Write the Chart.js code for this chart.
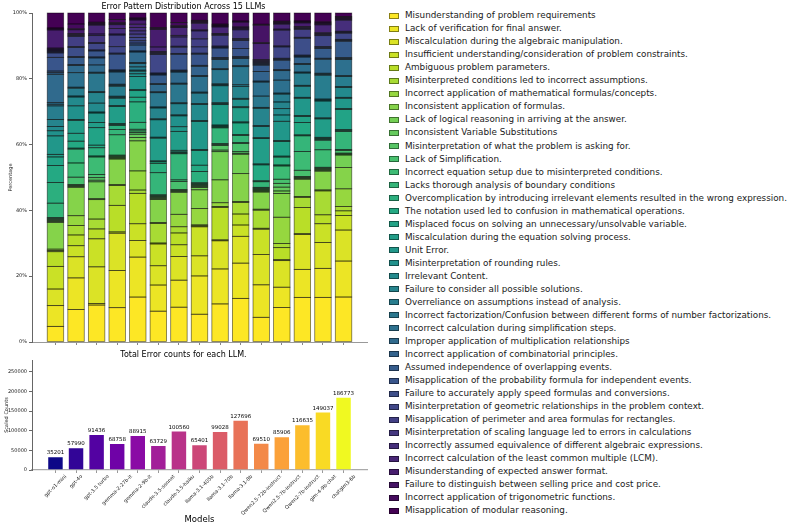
<!DOCTYPE html>
<html>
<head>
<meta charset="utf-8">
<script src="https://cdn.jsdelivr.net/npm/chart.js@4.4.1/dist/chart.umd.min.js"></script>
<style>
  body { margin: 0; background: #fff; font-family: "DejaVu Sans", sans-serif; }
  #topWrap { position: absolute; left: 0; top: 0; width: 380px; height: 350px; }
  #bottomWrap { position: absolute; left: 0; top: 350px; width: 380px; height: 179px; }
  #legend { position: absolute; left: 389px; top: 0; width: 408px; height: 529px; }
  .row { position: absolute; left: 0; height: 13px; line-height: 13px; white-space: nowrap; font-size: 8.8px; color: #1a1a1a; }
  .box { position: absolute; left: 0; top: 3.5px; width: 10px; height: 6px; box-sizing: border-box; border: 1px solid rgba(0,0,0,0.45); }
  .lbl { position: absolute; left: 16px; top: 0; }
</style>
</head>
<body>
<div id="topWrap"><canvas id="topChart"></canvas></div>
<div id="bottomWrap"><canvas id="bottomChart"></canvas></div>
<div id="legend"></div>
<script>
const models = ['gpt-o1-mini', 'gpt-4o', 'gpt-3.5 turbo', 'gemma-2-27b-it', 'gemma-2-9b-it',
  'claude-3.5-sonnet', 'claude-3.5-haiku', 'llama-3.1-405b', 'llama-3.1-70b', 'llama-3.1-8b',
  'Qwen2.5-72b-instruct', 'Qwen2.5-7b-instruct', 'Qwen2-7b-instruct', 'glm-4-9b-chat', 'chatglm3-6b'];

const totalErrors = [35201, 57990, 91436, 68758, 88915, 63729, 100560, 65401, 99028, 127696,
  69510, 85906, 116635, 149037, 186773];

const errorTypes = [
  'Misunderstanding of problem requirements',
  'Lack of verification for final answer.',
  'Miscalculation during the algebraic manipulation.',
  'Insufficient understanding/consideration of problem constraints.',
  'Ambiguous problem parameters.',
  'Misinterpreted conditions led to incorrect assumptions.',
  'Incorrect application of mathematical formulas/concepts.',
  'Inconsistent application of formulas.',
  'Lack of logical reasoning in arriving at the answer.',
  'Inconsistent Variable Substitutions',
  'Misinterpretation of what the problem is asking for.',
  'Lack of Simplification.',
  'Incorrect equation setup due to misinterpreted conditions.',
  'Lacks thorough analysis of boundary conditions',
  'Overcomplication by introducing irrelevant elements resulted in the wrong expression.',
  'The notation used led to confusion in mathematical operations.',
  'Misplaced focus on solving an unnecessary/unsolvable variable.',
  'Miscalculation during the equation solving process.',
  'Unit Error.',
  'Misinterpretation of rounding rules.',
  'Irrelevant Content.',
  'Failure to consider all possible solutions.',
  'Overreliance on assumptions instead of analysis.',
  'Incorrect factorization/Confusion between different forms of number factorizations.',
  'Incorrect calculation during simplification steps.',
  'Improper application of multiplication relationships',
  'Incorrect application of combinatorial principles.',
  'Assumed independence of overlapping events.',
  'Misapplication of the probability formula for independent events.',
  'Failure to accurately apply speed formulas and conversions.',
  'Misinterpretation of geometric relationships in the problem context.',
  'Misapplication of perimeter and area formulas for rectangles.',
  'Misinterpretation of scaling language led to errors in calculations',
  'Incorrectly assumed equivalence of different algebraic expressions.',
  'Incorrect calculation of the least common multiple (LCM).',
  'Misunderstanding of expected answer format.',
  'Failure to distinguish between selling price and cost price.',
  'Incorrect application of trigonometric functions.',
  'Misapplication of modular reasoning.'
];

// share (%) of each error type, one row per model, same order as errorTypes
const sharesByModel = [
  [4.9, 6.5, 5.2, 7.1, 4.6, 0.4, 0.4, 8.4, 0.3, 0.3, 0.3, 0.3, 0.3, 4.5, 6.5, 5.3, 2.7, 0.8, 5.8, 1.6, 1.3, 2.2, 4.3, 0.5, 0.5, 8.9, 0.5, 0.5, 4.3, 1.4, 0.3, 0.3, 0.3, 0.3, 0.3, 5.7, 0.3, 0.3, 4.7],
  [10.3, 10.0, 6.7, 3.5, 3.4, 3.0, 3.1, 9.0, 0.3, 0.3, 0.3, 2.3, 4.5, 4.4, 0.3, 2.2, 2.5, 4.1, 0.3, 4.3, 2.8, 0.3, 2.5, 0.3, 4.6, 2.3, 0.3, 2.2, 0.3, 2.9, 0.3, 3.2, 0.3, 0.3, 0.3, 1.2, 0.3, 1.5, 3.5],
  [11.6, 0.5, 11.5, 8.8, 3.1, 3.1, 6.1, 0.3, 5.3, 0.5, 0.8, 1.0, 5.5, 0.3, 2.6, 0.8, 5.5, 1.6, 3.0, 0.3, 2.8, 3.3, 0.3, 5.8, 0.3, 2.3, 2.2, 0.3, 1.9, 0.3, 2.0, 0.3, 2.2, 0.5, 2.8, 0.3, 0.3, 0.3, 2.9],
  [10.6, 11.5, 11.5, 0.4, 8.2, 6.1, 0.3, 7.9, 0.3, 0.3, 0.3, 0.3, 6.3, 1.6, 1.3, 0.3, 0.3, 5.2, 0.3, 2.3, 0.3, 0.3, 3.1, 0.3, 0.3, 3.8, 0.3, 0.3, 4.9, 0.3, 2.0, 3.6, 0.3, 1.7, 1.2, 0.3, 0.3, 1.0, 2.0],
  [13.6, 12.1, 5.0, 5.1, 9.2, 1.0, 5.8, 9.1, 1.0, 1.0, 0.5, 0.5, 0.5, 2.1, 6.2, 1.4, 2.0, 0.3, 4.0, 0.8, 0.8, 0.3, 1.0, 1.0, 0.3, 3.2, 0.3, 1.8, 0.6, 0.7, 1.0, 1.0, 1.0, 1.0, 1.0, 1.3, 0.3, 0.3, 1.5],
  [9.9, 8.4, 6.2, 7.0, 0.3, 6.3, 0.3, 7.4, 0.3, 0.3, 0.3, 0.3, 0.3, 7.1, 3.0, 0.5, 0.3, 7.3, 0.3, 5.6, 0.3, 3.5, 0.3, 4.6, 0.3, 2.3, 0.3, 2.8, 0.3, 0.3, 6.0, 0.3, 0.3, 0.3, 1.5, 5.6, 0.3, 0.3, 4.7],
  [11.2, 8.7, 7.6, 3.8, 3.8, 2.0, 4.0, 7.1, 0.3, 0.3, 0.3, 2.6, 0.5, 8.4, 0.3, 0.3, 0.5, 6.1, 1.5, 3.5, 0.3, 3.6, 0.3, 6.0, 0.3, 3.6, 0.3, 0.3, 5.1, 0.3, 2.0, 0.3, 3.0, 0.5, 2.5, 0.3, 0.3, 1.0, 3.1],
  [8.7, 12.0, 6.3, 9.1, 0.3, 0.3, 5.1, 5.9, 0.7, 0.3, 0.3, 0.3, 0.3, 0.3, 3.5, 2.0, 4.6, 0.3, 8.8, 0.3, 5.0, 0.3, 3.3, 0.3, 4.9, 0.3, 2.9, 0.3, 3.5, 0.3, 2.0, 2.5, 2.5, 0.3, 2.1, 0.3, 0.3, 0.3, 2.3],
  [12.3, 11.3, 9.1, 0.3, 10.5, 0.3, 1.2, 7.4, 9.1, 0.5, 1.5, 0.3, 0.3, 5.1, 0.3, 0.3, 0.3, 6.6, 0.3, 0.3, 5.5, 0.3, 0.3, 4.6, 0.3, 3.0, 0.3, 0.3, 3.1, 0.3, 0.3, 3.5, 0.3, 0.3, 2.1, 0.3, 0.3, 0.3, 3.6],
  [13.5, 10.9, 8.3, 3.5, 3.4, 3.6, 0.3, 8.6, 6.0, 0.3, 0.5, 2.5, 0.3, 2.2, 0.3, 3.6, 0.3, 4.4, 0.3, 2.3, 0.3, 3.7, 0.5, 5.6, 0.3, 2.2, 0.3, 0.3, 2.5, 2.5, 0.3, 0.3, 2.7, 0.3, 0.3, 0.3, 1.5, 0.3, 2.5],
  [7.9, 10.4, 9.7, 8.1, 0.3, 5.8, 0.3, 5.5, 0.3, 0.3, 0.3, 0.3, 0.3, 1.8, 0.3, 5.1, 0.3, 8.1, 0.3, 3.6, 0.3, 5.5, 0.3, 3.6, 4.5, 0.3, 3.1, 2.0, 0.3, 0.3, 0.3, 0.3, 0.3, 0.3, 5.1, 0.3, 5.6, 0.3, 3.6],
  [10.9, 6.4, 8.4, 0.3, 3.8, 1.3, 8.3, 7.5, 0.8, 1.2, 1.2, 1.3, 4.2, 0.3, 2.5, 0.3, 4.6, 0.3, 6.1, 2.0, 2.0, 2.1, 2.5, 0.3, 4.1, 3.0, 0.3, 3.0, 0.3, 0.3, 3.6, 0.3, 5.0, 0.3, 1.6, 0.3, 0.3, 0.3, 2.6],
  [14.5, 9.1, 11.3, 0.3, 8.5, 3.3, 0.3, 5.6, 0.3, 0.3, 0.3, 2.0, 6.1, 5.1, 0.3, 4.0, 2.0, 0.3, 5.6, 0.3, 3.6, 0.3, 4.0, 0.3, 2.5, 0.3, 2.1, 0.3, 0.3, 5.5, 0.3, 2.6, 0.3, 0.3, 0.3, 1.2, 0.3, 0.3, 2.6],
  [14.0, 9.1, 8.1, 5.9, 2.8, 7.5, 0.3, 5.9, 0.3, 0.3, 0.3, 0.3, 5.5, 3.0, 0.3, 0.3, 0.3, 5.8, 0.3, 5.3, 0.3, 0.3, 7.5, 0.3, 0.3, 4.4, 0.3, 3.1, 0.3, 0.3, 3.4, 0.3, 0.3, 0.3, 2.5, 0.3, 0.3, 0.3, 2.8],
  [14.5, 11.6, 10.0, 4.7, 1.5, 1.4, 5.7, 6.9, 4.0, 0.3, 0.3, 0.9, 0.3, 5.8, 0.3, 0.3, 6.5, 0.3, 3.3, 0.3, 3.2, 0.3, 3.2, 0.3, 5.2, 0.3, 0.3, 5.3, 0.3, 0.3, 2.0, 0.3, 0.3, 3.6, 0.3, 0.3, 0.3, 0.3, 1.1]
];

const percentTicks = [0, 20, 40, 60, 80, 100];
const countTicks = [0, 50000, 100000, 150000, 200000, 250000];

// colormap stops
const viridisStops = ['#440154', '#482475', '#414487', '#355f8d', '#2a788e', '#21918c', '#22a884', '#42be71', '#7ad151', '#bddf26', '#fde725'];
const plasmaStops = ['#0d0887', '#41049d', '#6a00a8', '#8f0da4', '#b12a90', '#cc4778', '#e16462', '#f2844b', '#fca636', '#fcce25', '#f0f921'];

function hexRgb(h) {
  return [parseInt(h.slice(1, 3), 16), parseInt(h.slice(3, 5), 16), parseInt(h.slice(5, 7), 16)];
}
function cmap(stops, t) {
  const p = Math.min(Math.max(t, 0), 1) * (stops.length - 1);
  const i = Math.min(Math.floor(p), stops.length - 2);
  const f = p - i;
  const a = hexRgb(stops[i]), b = hexRgb(stops[i + 1]);
  return 'rgb(' + a.map((v, k) => Math.round(v + (b[k] - v) * f)).join(',') + ')';
}

const typeColors = errorTypes.map((_, k) => cmap(viridisStops, 1 - k / (errorTypes.length - 1)));
const modelColors = models.map((_, i) => cmap(plasmaStops, i / (models.length - 1)));

// normalise each row to 100 %
const pct = sharesByModel.map(row => {
  const s = row.reduce((a, b) => a + b, 0);
  return row.map(v => v / s * 100);
});

Chart.defaults.font.family = '"DejaVu Sans", sans-serif';
Chart.defaults.color = '#222';

const xRange = { min: -1.14, max: models.length - 1 + 1.14 };
const setModelTicks = s => { s.ticks = models.map((m, i) => ({ value: i })); };

// matplotlib-like edges: outline centred on each segment's boundary
const segmentEdges = {
  id: 'segmentEdges',
  afterDatasetsDraw(chart) {
    const ctx = chart.ctx;
    ctx.save();
    ctx.lineWidth = 0.8;
    ctx.strokeStyle = 'rgba(0,0,0,0.55)';
    chart.data.datasets.forEach((ds, k) => {
      chart.getDatasetMeta(k).data.forEach(bar => {
        const { x, y, base, width } = bar.getProps(['x', 'y', 'base', 'width'], true);
        ctx.strokeRect(x - width / 2, y, width, base - y);
      });
    });
    ctx.restore();
  }
};

new Chart(document.getElementById('topChart'), {
  type: 'bar',
  data: {
    datasets: errorTypes.map((name, k) => ({
      label: name,
      data: models.map((m, i) => ({ x: i, y: pct[i][k] })),
      backgroundColor: typeColors[k],
      borderWidth: 0,
      categoryPercentage: 0.8,
      barPercentage: 1
    }))
  },
  options: {
    responsive: true,
    maintainAspectRatio: false,
    animation: false,
    layout: { padding: { left: 0, right: 13, top: 0, bottom: 0 } },
    plugins: {
      legend: { display: false },
      tooltip: { enabled: false },
      title: {
        display: true,
        text: 'Error Pattern Distribution Across 15 LLMs',
        color: '#000',
        font: { size: 8, weight: 'normal' },
        padding: { top: 2, bottom: 1.4 }
      }
    },
    scales: {
      x: {
        type: 'linear',
        stacked: true,
        offset: false,
        min: xRange.min,
        max: xRange.max,
        afterBuildTicks: setModelTicks,
        ticks: { display: false },
        grid: { offset: false, drawOnChartArea: false, tickLength: 3, color: '#888' },
        border: { color: '#999' },
        afterFit: s => { s.height = 8; }
      },
      y: {
        stacked: true,
        min: 0,
        max: 100,
        afterBuildTicks: s => { s.ticks = percentTicks.map(v => ({ value: v })); },
        ticks: { callback: v => v + '%', font: { size: 5 }, padding: 2 },
        grid: { drawOnChartArea: false, tickLength: 3, color: '#666' },
        border: { color: '#666' },
        title: { display: true, text: 'Percentage', font: { size: 5 }, padding: { top: 8, bottom: 0 } },
        afterFit: s => { s.width = 32; }
      }
    }
  },
  plugins: [segmentEdges]
});

// count labels above the bars
const valueLabels = {
  id: 'valueLabels',
  afterDatasetsDraw(chart) {
    const ctx = chart.ctx;
    const meta = chart.getDatasetMeta(0);
    ctx.save();
    ctx.font = '5.5px "DejaVu Sans"';
    ctx.fillStyle = '#000';
    ctx.textAlign = 'center';
    ctx.textBaseline = 'bottom';
    meta.data.forEach((bar, i) => ctx.fillText(String(totalErrors[i]), bar.x, bar.y - 0.5));
    ctx.restore();
  }
};

// model names rotated 45 degrees, centred under each tick
const slantedTicks = {
  id: 'slantedTicks',
  afterDraw(chart) {
    const ctx = chart.ctx;
    const xs = chart.scales.x;
    ctx.save();
    ctx.font = '5px "DejaVu Sans"';
    ctx.fillStyle = '#222';
    ctx.textAlign = 'center';
    ctx.textBaseline = 'middle';
    models.forEach((name, i) => {
      const w = ctx.measureText(name).width;
      const d = (w + 5) * Math.SQRT1_2 / 2;
      ctx.save();
      ctx.translate(xs.getPixelForValue(i), xs.top + 4 + d);
      ctx.rotate(-Math.PI / 4);
      ctx.fillText(name, 0, 0);
      ctx.restore();
    });
    ctx.restore();
  }
};

new Chart(document.getElementById('bottomChart'), {
  type: 'bar',
  data: {
    datasets: [{
      label: 'Scaled Counts',
      data: models.map((m, i) => ({ x: i, y: totalErrors[i] })),
      backgroundColor: modelColors,
      borderColor: 'rgba(255,255,255,0.55)',
      borderWidth: 1,
      categoryPercentage: 0.8,
      barPercentage: 1
    }]
  },
  options: {
    responsive: true,
    maintainAspectRatio: false,
    animation: false,
    layout: { padding: { left: 0, right: 13, top: 0, bottom: 0 } },
    plugins: {
      legend: { display: false },
      tooltip: { enabled: false },
      title: {
        display: true,
        text: 'Total Error counts for each LLM.',
        color: '#000',
        font: { size: 8, weight: 'normal' },
        padding: { top: 0, bottom: 0.4 }
      }
    },
    scales: {
      x: {
        type: 'linear',
        offset: false,
        min: xRange.min,
        max: xRange.max,
        afterBuildTicks: setModelTicks,
        ticks: { display: false },
        grid: { offset: false, drawOnChartArea: false, tickLength: 3, color: '#999' },
        border: { color: '#aaa', width: 1.2 },
        title: { display: true, text: 'Models', color: '#000', font: { size: 8.5 }, padding: { top: 0, bottom: 4 } },
        afterFit: s => { s.height = 59; }
      },
      y: {
        min: 0,
        max: Math.max(...totalErrors) * 1.5,
        afterBuildTicks: s => { s.ticks = countTicks.map(v => ({ value: v })); },
        ticks: { callback: v => String(v), font: { size: 5 }, padding: 2 },
        grid: { drawOnChartArea: false, tickLength: 3, color: '#666' },
        border: { color: '#666' },
        title: { display: true, text: 'Scaled Counts', font: { size: 5 }, padding: { top: 4, bottom: 0 } },
        afterFit: s => { s.width = 32; }
      }
    }
  },
  plugins: [valueLabels, slantedTicks]
});

// legend
const legend = document.getElementById('legend');
errorTypes.forEach((name, k) => {
  const row = document.createElement('div');
  row.className = 'row';
  row.style.top = (15.7 - 6.5 + k * 13.03) + 'px';
  const box = document.createElement('span');
  box.className = 'box';
  box.style.background = typeColors[k];
  const lbl = document.createElement('span');
  lbl.className = 'lbl';
  lbl.textContent = name;
  row.appendChild(box);
  row.appendChild(lbl);
  legend.appendChild(row);
});
</script>
</body>
</html>
